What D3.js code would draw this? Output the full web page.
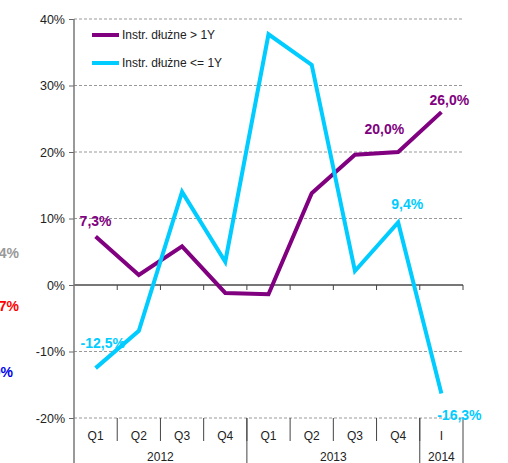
<!DOCTYPE html>
<html><head><meta charset="utf-8">
<script src="https://cdn.jsdelivr.net/npm/d3@7"></script>
<style>body{margin:0;background:#fff}svg{display:block;font-family:"Liberation Sans",Arial,sans-serif}</style>
</head><body>
<script>
const quarters = ["Q1","Q2","Q3","Q4","Q1","Q2","Q3","Q4","I"];
const years = [{label:"2012",start:0,end:4},{label:"2013",start:4,end:8},{label:"2014",start:8,end:9}];
const seriesNames = ["Instr. dłużne > 1Y","Instr. dłużne <= 1Y"];
const longTerm = [7.3,1.5,5.8,-1.2,-1.4,13.8,19.6,20.0,26.0];
const shortTerm = [-12.5,-6.9,14.0,3.5,37.7,33.1,2.1,9.4,-16.3];
const yTicks = [-20,-10,0,10,20,30,40];
const colors = ["#800080","#00CCFF"];

const W=508,H=463;
const svg=d3.select("body").append("svg").attr("width",W).attr("height",H);
const x0=74,x1=463;
const y=d3.scaleLinear().domain([-20,40]).range([418,19]);
const x=d3.scaleBand().domain(d3.range(quarters.length)).range([x0,x1]).padding(0);
const cx=i=>x(i)+x.bandwidth()/2;

// gridlines
svg.append("g").selectAll("line").data(yTicks.filter(d=>d!==0)).join("line")
 .attr("x1",x0).attr("x2",x1).attr("y1",d=>y(d)).attr("y2",d=>y(d))
 .attr("stroke","#999").attr("stroke-dasharray","3,2").attr("stroke-width",1);

// y axis
const ya=svg.append("g").attr("transform",`translate(${x0},0)`)
 .call(d3.axisLeft(y).tickValues(yTicks).tickFormat(d=>d+"%").tickSize(5).tickPadding(4));
ya.select(".domain").remove();
ya.selectAll("line").attr("stroke","#666");
ya.selectAll("text").attr("font-size",12.5).attr("fill","#222").attr("font-family","Liberation Sans, Arial");
svg.append("line").attr("x1",x0).attr("x2",x0).attr("y1",y(40)).attr("y2",H).attr("stroke","#777").attr("stroke-width",1.5);

// zero line + ticks
svg.append("line").attr("x1",x0).attr("x2",x1).attr("y1",y(0)).attr("y2",y(0)).attr("stroke","#777").attr("stroke-width",2);
svg.append("g").selectAll("line").data(d3.range(1,quarters.length+1)).join("line")
 .attr("x1",i=>x0+i*x.bandwidth()).attr("x2",i=>x0+i*x.bandwidth())
 .attr("y1",y(0)).attr("y2",y(0)+5).attr("stroke","#444");

// category separators
const bottom=y(-20);
svg.append("g").selectAll("line").data(d3.range(1,quarters.length)).join("line")
 .attr("x1",i=>x0+i*x.bandwidth()).attr("x2",i=>x0+i*x.bandwidth())
 .attr("y1",bottom).attr("y2",bottom+23).attr("stroke","#444");
svg.append("g").selectAll("line").data(years.map(d=>d.end)).join("line")
 .attr("x1",i=>x0+i*x.bandwidth()).attr("x2",i=>x0+i*x.bandwidth())
 .attr("y1",bottom).attr("y2",H).attr("stroke","#444");
svg.append("g").selectAll("text").data(quarters).join("text")
 .attr("x",(d,i)=>cx(i)).attr("y",bottom+22).attr("text-anchor","middle")
 .attr("font-size",12).attr("fill","#222").text(d=>d);
svg.append("g").selectAll("text").data(years).join("text")
 .attr("x",d=>x0+(d.start+d.end)/2*x.bandwidth()).attr("y",H-2).attr("text-anchor","middle")
 .attr("font-size",12).attr("fill","#222").text(d=>d.label);

// lines
const line=d3.line().x((d,i)=>cx(i)).y(d=>y(d));
[longTerm,shortTerm].forEach((s,k)=>{
 svg.append("path").datum(s).attr("d",line).attr("fill","none")
  .attr("stroke",colors[k]).attr("stroke-width",4).attr("stroke-linejoin","miter");
});

// data labels
const fmt=v=>d3.format(".1f")(v).replace("\u2212","-").replace(".",",")+"%";
const labels=[
 {s:0,i:0,dx:-16,dy:-10,anchor:"start"},
 {s:0,i:7,dx:6,dy:-18,anchor:"end"},
 {s:0,i:8,dx:8,dy:-7,anchor:"middle"},
 {s:1,i:0,dx:-15,dy:-20,anchor:"start"},
 {s:1,i:7,dx:9,dy:-13,anchor:"middle"},
 {s:1,i:8,dx:18,dy:27,anchor:"middle"}
];
svg.append("g").selectAll("text").data(labels).join("text")
 .attr("x",d=>cx(d.i)+d.dx).attr("y",d=>y([longTerm,shortTerm][d.s][d.i])+d.dy)
 .attr("text-anchor",d=>d.anchor).attr("font-size",14).attr("font-weight","bold")
 .attr("fill",d=>colors[d.s]).text(d=>fmt([longTerm,shortTerm][d.s][d.i]));

// legend
const lg=svg.append("g");
seriesNames.forEach((n,k)=>{
 const ly=35+k*28;
 lg.append("line").attr("x1",92).attr("x2",119).attr("y1",ly).attr("y2",ly).attr("stroke",colors[k]).attr("stroke-width",4);
 lg.append("text").attr("x",122).attr("y",ly+4).attr("font-size",12).attr("fill","#222").text(n);
});

// clipped labels at left edge (from neighbouring chart, partly outside the frame as in the original)
const edge=[{t:"1,4%",c:"#999",y:258},{t:"2,7%",c:"#ff0000",y:311},{t:"5,0%",c:"#0000ee",y:377}];
svg.append("g").selectAll("text").data(edge).join("text")
 .attr("x",(d,i)=>i===2?13:19).attr("y",d=>d.y).attr("text-anchor","end")
 .attr("font-size",14).attr("font-weight","bold").attr("fill",d=>d.c).text(d=>d.t);
</script>
</body></html>
